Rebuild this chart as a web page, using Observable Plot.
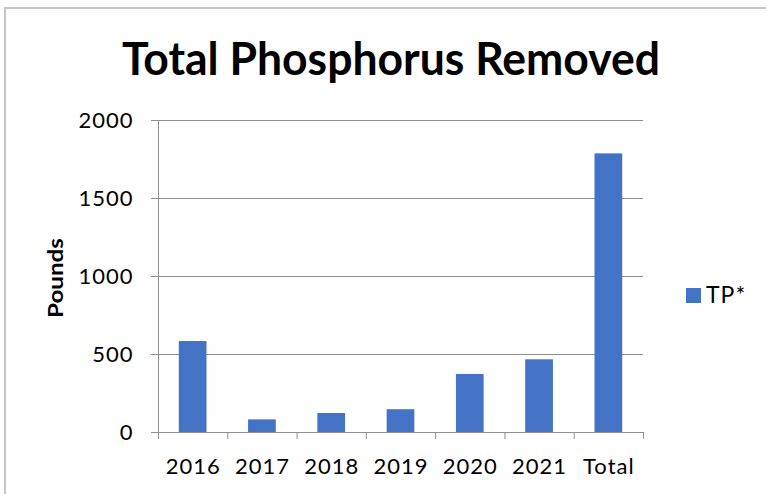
<!DOCTYPE html>
<html><head><meta charset="utf-8">
<script src="https://cdn.jsdelivr.net/npm/d3@7"></script>
<script src="https://cdn.jsdelivr.net/npm/@observablehq/plot@0.6"></script>
<style>
html,body{margin:0;padding:0;background:#fff;overflow:hidden;}
#wrap{position:relative;width:766px;height:494px;overflow:hidden;background:#fff;}
#border{position:absolute;left:4px;top:7px;width:900px;height:700px;border:2px solid #c6c6c6;box-sizing:border-box;}
#plot{position:absolute;left:0;top:0;}
#overlay{position:absolute;left:0;top:0;pointer-events:none;}
</style>
</head><body>
<div id="wrap"><div id="border"></div><div id="plot"></div><svg id="overlay" width="766" height="494"></svg></div>
<script>
// ---- data ----
const categories = ["2016", "2017", "2018", "2019", "2020", "2021", "Total"];
const values = [583, 81, 122, 146, 372, 466, 1786];
const seriesName = ["TP*"];
const yTicks = [0, 500, 1000, 1500, 2000];
const titleText = "Total Phosphorus Removed";
const yLabel = "Pounds";

// ---- styling ----
const barColor = "#4472C4";
const gridColor = "#8f8f8f";
const W = 766, H = 494;
const mL = 158, mR = 123, mT = 120, mB = 62;
const step = (W - mL - mR) / categories.length;

const rows = categories.map((c, i) => ({cat: c, value: values[i]}));

const chart = Plot.plot({
  width: W, height: H,
  marginLeft: mL, marginRight: mR, marginTop: mT, marginBottom: mB,
  style: {fontFamily: "Lato, 'Open Sans', sans-serif", fontSize: "22px", color: "black", background: "transparent", letterSpacing: "1px"},
  x: {domain: categories, paddingInner: 0.6, paddingOuter: 0.3, round: false, axis: null},
  y: {domain: [0, 2000], axis: null},
  marks: [
    Plot.ruleY(yTicks.filter(t => t > 0), {stroke: gridColor, strokeWidth: 1}),
    Plot.barY(rows, {x: "cat", y: "value", fill: barColor}),
    Plot.ruleY([0], {stroke: gridColor}),
    Plot.frame({anchor: "left", stroke: gridColor}),
    Plot.axisY({ticks: yTicks, tickFormat: d => String(d), tickSize: 7, tickPadding: 18, stroke: gridColor, fill: "black", fontSize: 22, label: null}),
    Plot.axisX({tickSize: 0, tickPadding: 26, fill: "black", fontSize: 22, label: null}),
    Plot.axisX({tickSize: 7, tickFormat: () => "", dx: -step / 2, stroke: gridColor, label: null}),
    Plot.axisX({ticks: [categories[categories.length - 1]], tickSize: 7, tickFormat: () => "", dx: step / 2, stroke: gridColor, label: null})
  ]
});
document.getElementById("plot").appendChild(chart);

// ---- overlay: title, axis label, legend ----
const ov = d3.select("#overlay");
ov.append("text")
  .attr("x", 391).attr("y", 75)
  .attr("text-anchor", "middle")
  .attr("font-family", "Lato, 'Open Sans', sans-serif")
  .attr("font-weight", "bold").attr("font-size", 45)
  .attr("textLength", 538).attr("lengthAdjust", "spacingAndGlyphs")
  .text(titleText);
ov.append("text")
  .attr("transform", "translate(63,278) rotate(-90)")
  .attr("text-anchor", "middle")
  .attr("font-family", "Lato, 'Open Sans', sans-serif")
  .attr("font-weight", "bold").attr("font-size", 21)
  .attr("textLength", 80).attr("lengthAdjust", "spacingAndGlyphs")
  .text(yLabel);
const lg = ov.append("g");
lg.append("rect").attr("x", 686).attr("y", 288).attr("width", 15).attr("height", 15).attr("fill", barColor);
lg.append("text").attr("x", 706).attr("y", 303)
  .attr("font-family", "Lato, 'Open Sans', sans-serif").attr("font-size", 23)
  .attr("letter-spacing", "1px")
  .text(seriesName[0]);
</script>
</body></html>
